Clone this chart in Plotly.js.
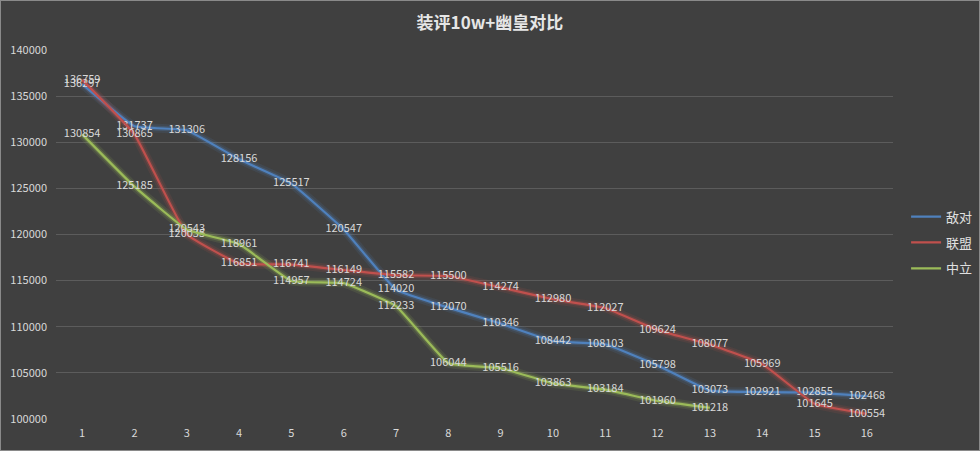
<!DOCTYPE html>
<html>
<head>
<meta charset="utf-8">
<script src="https://cdn.plot.ly/plotly-3.0.1.min.js"></script>
<style>
html,body{margin:0;padding:0;background:#404040;}
#chart{width:978px;height:449px;border:1px solid #8a8a8a;}
</style>
</head>
<body>
<div id="chart"></div>
<script>
var categories = ['1','2','3','4','5','6','7','8','9','10','11','12','13','14','15','16'];
var seriesNames = ['敌对','联盟','中立'];
var diDui   = [136297,131737,131306,128156,125517,120547,114020,112070,110346,108442,108103,105798,103073,102921,102855,102468];
var lianMeng= [136759,130865,120035,116851,116741,116149,115582,115500,114274,112980,112027,109624,108077,105969,101645,100554];
var zhongLi = [130854,125185,120543,118961,114957,114724,112233,106044,105516,103863,103184,101960,101218];
var yTicks  = [100000,105000,110000,115000,120000,125000,130000,135000,140000];

var colors = ['#4f81bd','#c0504d','#9bbb59'];
var allData = [diDui, lianMeng, zhongLi];
var font = '"Noto Sans CJK SC", "Noto Sans", sans-serif';

var traces = [];
// glow layers
allData.forEach(function(d, i){
  var xs = categories.slice(0, d.length);
  [9,5].forEach(function(w, k){
    traces.push({
      x: xs, y: d, type:'scatter', mode:'lines',
      line:{color: colors[i], width: w, shape:'spline', smoothing:0.3},
      opacity: k===0 ? 0.12 : 0.25,
      hoverinfo:'skip', showlegend:false
    });
  });
});
allData.forEach(function(d, i){
  var xs = categories.slice(0, d.length);
  traces.push({
    x: xs, y: d, type:'scatter', mode:'lines+text',
    name: seriesNames[i], legendgroup: 'g' + i,
    line:{color: colors[i], width: 2.2, shape:'spline', smoothing:0.3},
    text: d.map(String), textposition:'middle center',
    textfont:{color:'#d9d9d9', size:11, family:font}
  });
});

var layout = {
  width: 978, height: 449,
  paper_bgcolor:'#404040', plot_bgcolor:'#404040',
  margin:{l:55, r:0, t:49, b:31, autoexpand:false},
  title:{text:'装评10w+幽皇对比', x:0.5, xref:'container', xanchor:'center', y:0.95, yanchor:'middle',
         font:{family:font, size:17, color:'#e6e6e6', weight:'bold'}},
  xaxis:{type:'category', range:[-0.5,15.5], domain:[0, 0.9068], showgrid:false, zeroline:false,
         showline:false, ticks:'', tickfont:{color:'#d9d9d9', size:11, family:font},
         ticklabelstandoff:6},
  yaxis:{range:[100000,140000], tickvals:yTicks, ticktext:yTicks.map(String),
         showgrid:true, gridcolor:'#5c5c5c', gridwidth:1, zeroline:false, showline:false,
         ticks:'', tickfont:{color:'#d9d9d9', size:11, family:font}, ticklabelstandoff:8},
  legend:{x:0.921, xanchor:'left', y:0.478, yanchor:'middle',
          font:{color:'#e0e0e0', size:13, family:font}, bgcolor:'rgba(0,0,0,0)',
          tracegroupgap:6},
  showlegend:true
};
Plotly.newPlot('chart', traces, layout, {displayModeBar:false, staticPlot:true});
</script>
</body>
</html>
